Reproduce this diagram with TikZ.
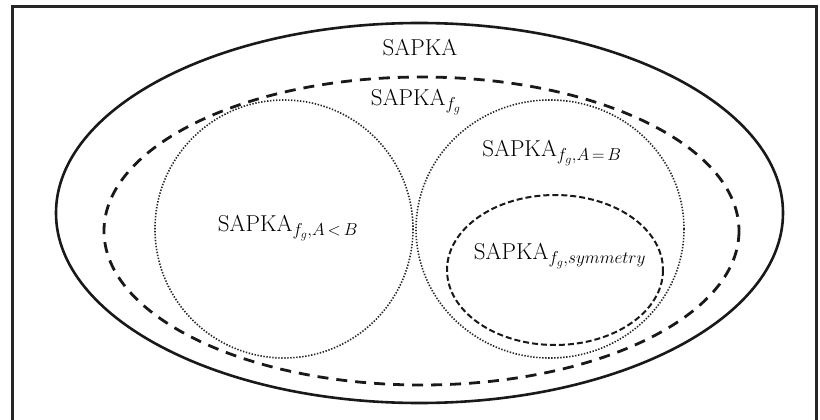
\documentclass[tikz,border=0pt]{standalone}
\usepackage{tikz}
\begin{document}
\begin{tikzpicture}[x=1pt,y=-1pt,
  frameline/.style={line width=3pt,draw=black!85},
  solidell/.style={line width=2.6pt,draw=black!90},
  bigdash/.style={line width=2.8pt,draw=black!90,dash pattern=on 11pt off 8pt},
  dotline/.style={line width=1.6pt,draw=black!85,dash pattern=on 1.4pt off 1.6pt},
  smalldash/.style={line width=2pt,draw=black!90,dash pattern=on 6pt off 3pt},
  lbl/.style={font=\fontsize{23}{28}\selectfont,inner sep=0pt}]
\useasboundingbox (0,0) rectangle (820,420);
\fill[white] (0,0) rectangle (820,420);
\draw[frameline] (12,425) -- (12,7) -- (816,7) -- (816,425);
\draw[solidell] (419.5,213) ellipse [x radius=363.5, y radius=190];
\draw[bigdash] (421.5,231) ellipse [x radius=317.5, y radius=154];
\draw[dotline] (284,229) ellipse [x radius=129, y radius=129];
\draw[dotline] (550,229) ellipse [x radius=134, y radius=129];
\draw[smalldash] (555,270) ellipse [x radius=108, y radius=75];
\node[lbl] (l1) at (420,48) {SAPKA};
\node[lbl] (l2) at (416,102) {SAPKA$_{f_g}$};
\node[lbl] (l3) at (288,228) {SAPKA$_{f_g,A\,<\,B}$};
\node[lbl] (l4) at (552,153) {SAPKA$_{f_g,A\,=\,B}$};
\node[lbl] (l5) at (560,256) {SAPKA$_{f_g,symmetry}$};
\end{tikzpicture}
\end{document}
